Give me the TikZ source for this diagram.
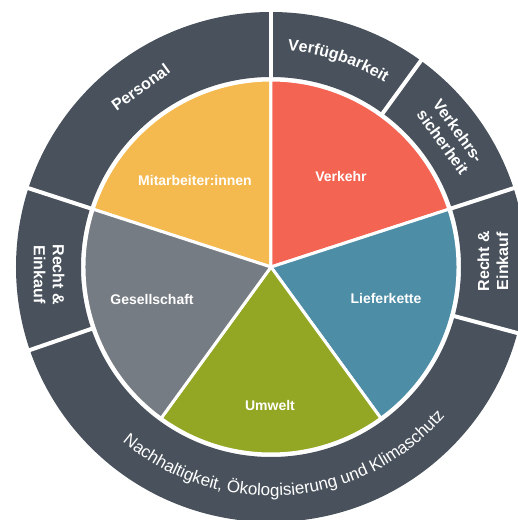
\documentclass[tikz,border=0pt]{standalone}
\usepackage{fontspec}
\setmainfont{Liberation Sans}
\usetikzlibrary{decorations.text}
\definecolor{ringgray}{HTML}{49525C}
\definecolor{segyellow}{HTML}{F4B94F}
\definecolor{segred}{HTML}{F46452}
\definecolor{segblue}{HTML}{4D8DA6}
\definecolor{seggreen}{HTML}{93A724}
\definecolor{seggray}{HTML}{767C83}
\newcommand{\ringtext}{\fontsize{16}{19}\selectfont\bfseries}
\newcommand{\arctext}{\fontsize{17}{20}\selectfont}
\newcommand{\segtext}{\fontsize{14}{16}\selectfont\bfseries}

\begin{document}
\begin{tikzpicture}[
  segment/.style={fill=#1,draw=white,line width=3pt,line join=round},
  separator/.style={draw=white,line width=4pt},
  seglabel/.style={text=white,font=\segtext},
  ringlabel/.style={text=white,font=\ringtext,align=center,inner sep=0pt}
]
\useasboundingbox (-271pt,-253pt) rectangle (247pt,267pt);
\clip (-271pt,-253pt) rectangle (247pt,267pt);

% outer ring
\fill[ringgray,even odd rule] (0,0) circle (255pt) (0,0) circle (190pt);
\draw[separator] (90:186pt) -- (90:260pt);
\draw[separator] (54:186pt) -- (54:260pt);
\draw[separator] (18:186pt) -- (18:260pt);
\draw[separator] (-15:186pt) -- (-15:260pt);
\draw[separator] (199:186pt) -- (199:260pt);
\draw[separator] (162:186pt) -- (162:260pt);

% pie
\draw[segment=segyellow] (0,0) -- (90:187pt) arc[start angle=90,end angle=162,radius=187pt] -- cycle;
\draw[segment=segred] (0,0) -- (18:187pt) arc[start angle=18,end angle=90,radius=187pt] -- cycle;
\draw[segment=segblue] (0,0) -- (-54:187pt) arc[start angle=-54,end angle=18,radius=187pt] -- cycle;
\draw[segment=seggreen] (0,0) -- (-126:187pt) arc[start angle=-126,end angle=-54,radius=187pt] -- cycle;
\draw[segment=seggray] (0,0) -- (162:187pt) arc[start angle=162,end angle=234,radius=187pt] -- cycle;

\node[seglabel] (mitarbeiter) at (-76pt,87pt) {Mitarbeiter:innen};
\node[seglabel] (verkehr) at (70pt,91pt) {Verkehr};
\node[seglabel] (lieferkette) at (115pt,-31pt) {Lieferkette};
\node[seglabel] (umwelt) at (-1pt,-138pt) {Umwelt};
\node[seglabel] (gesellschaft) at (-119pt,-32pt) {Gesellschaft};

% ring labels
\node[ringlabel,rotate=36] (personal) at (126:222pt) {Personal};
\node[ringlabel,rotate=-54] (sicherheit) at (36:222pt) {Verkehrs-\\sicherheit};
\node[ringlabel,rotate=-90] (rechtlinks) at (182:222pt) {Recht \&\\Einkauf};
\node[ringlabel,rotate=90] (rechtrechts) at (1.5:222pt) {Recht \&\\Einkauf};

\path[decorate,decoration={text along path,text align=center,text color=white,
  text={|\ringtext|Verfügbarkeit}}]
  (89:217pt) arc[start angle=89,end angle=55,radius=217pt];
\path[decorate,decoration={text along path,text align=center,text color=white,
  text={|\arctext|Nachhaltigkeit, Ökologisierung und Klimaschutz}}]
  (206:229pt) arc[start angle=206,end angle=343,radius=229pt];
\end{tikzpicture}
\end{document}
